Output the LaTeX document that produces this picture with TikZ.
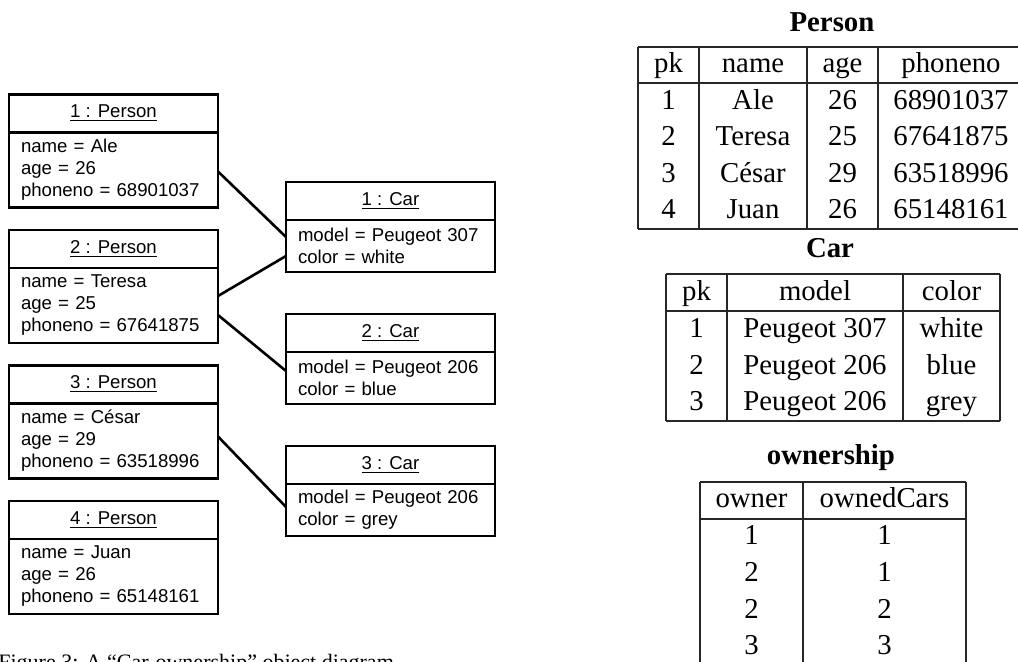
\documentclass[tikz,border=0pt]{standalone}
\usepackage{fontspec}
\setmainfont{Liberation Serif}
\newfontfamily\umlfont{Liberation Sans}
\usetikzlibrary{positioning}

\tikzset{
	objhead/.style={draw, line width=1.3pt, outer sep=0pt, inner sep=0pt,
		minimum width=104.5pt, minimum height=19pt, font=\umlfont\fontsize{9.3}{11}\selectfont},
	objbody/.style={draw, line width=1.3pt, outer sep=0pt, inner xsep=6pt, inner ysep=0pt,
		text width=92.5pt, align=left, font=\umlfont\fontsize{9.3}{11}\selectfont},
	link/.style={line width=1.3pt},
	tabline/.style={line width=0.6pt, black!85},
	cell/.style={anchor=base, inner sep=0pt, font=\fontsize{14.4}{17}\selectfont},
	tabtitle/.style={anchor=base, inner sep=0pt, font=\bfseries\fontsize{14.4}{17}\selectfont}
}

\begin{document}
\begin{tikzpicture}[x=0.5pt, y=-0.5pt]
	\useasboundingbox (0,0) rectangle (1018,662);
	\clip (0,0) rectangle (1018,662);
	% object diagram
	\foreach \i/\n/\a/\p in {1/Ale/26/68901037,2/Teresa/25/67641875,3/César/29/63518996,4/Juan/26/65148161} {
		\node[objhead] (ph\i) at (113.5, {113.5+135.5*(\i-1)}) {\underline{\i{} : Person}};
		\node[objbody, minimum height=37.5pt, below=0pt of ph\i] (p\i) {name = \n\\age = \a\\phoneno = \p};
	};
	\foreach \i/\m/\c in {1/307/white,2/206/blue,3/206/grey} {
		\node[objhead] (ch\i) at (390.5, {201+132*(\i-1)}) {\underline{\i{} : Car}};
		\node[objbody, minimum height=26pt, below=0pt of ch\i] (c\i) {model = Peugeot \m\\color = \c};
	};
	\path[link]
		([yshift=-0.75pt]p1.east) edge ([yshift=4.5pt]c1.west)
		([yshift=4.75pt]p2.east) edge ([yshift=-5pt]c1.west)
		([yshift=-4.75pt]p2.east) edge ([yshift=3.5pt]c2.west)
		([yshift=2.25pt]p3.east) edge ([yshift=1.5pt]c3.west);
	\node[anchor=base west, inner sep=0pt, font=\fontsize{11}{13}\selectfont] (caption) at (-2,669)
		{Figure 3: A ``Car-ownership'' object diagram};

	% Person table
	\node[tabtitle] (ptitle) at (832,32) {Person};
	\foreach \y in {47,83,229} \draw[tabline] (638,\y) -- (1024,\y);
	\foreach \x in {638,699,807,878,1024} \draw[tabline] (\x,47) -- (\x,229);
	\foreach \r/\k/\n/\a/\p in {0/pk/name/age/phoneno,1/1/Ale/26/68901037,2/2/Teresa/25/67641875,3/3/César/29/63518996,4/4/Juan/26/65148161} {
		\node[cell] (pk\r) at (668.5, {73+36.5*\r}) {\k};
		\node[cell] (pn\r) at (753, {73+36.5*\r}) {\n};
		\node[cell] (pa\r) at (842.5, {73+36.5*\r}) {\a};
		\node[cell] (pp\r) at (951, {73+36.5*\r}) {\p};
	};

	% Car table
	\node[tabtitle] (ctitle) at (830,258) {Car};
	\foreach \y in {274,311,421} \draw[tabline] (666,\y) -- (1000,\y);
	\foreach \x in {666,727,903,1000} \draw[tabline] (\x,274) -- (\x,421);
	\foreach \r/\k/\m/\c in {0/pk/model/color,1/1/Peugeot 307/white,2/2/Peugeot 206/blue,3/3/Peugeot 206/grey} {
		\node[cell] (ck\r) at (696.5, {300.5+36.8*\r}) {\k};
		\node[cell] (cm\r) at (815, {300.5+36.8*\r}) {\m};
		\node[cell] (cc\r) at (951.5, {300.5+36.8*\r}) {\c};
	};

	% ownership table
	\node[tabtitle] (otitle) at (831,465) {ownership};
	\foreach \y in {482,519,700} \draw[tabline] (700,\y) -- (966,\y);
	\foreach \x in {700,803,966} \draw[tabline] (\x,482) -- (\x,700);
	\foreach \r/\o/\c in {0/owner/ownedCars,1/1/1,2/2/1,3/2/2,4/3/3} {
		\node[cell] (oo\r) at (751.5, {508+36.7*\r}) {\o};
		\node[cell] (oc\r) at (884.5, {508+36.7*\r}) {\c};
	};
\end{tikzpicture}
\end{document}
